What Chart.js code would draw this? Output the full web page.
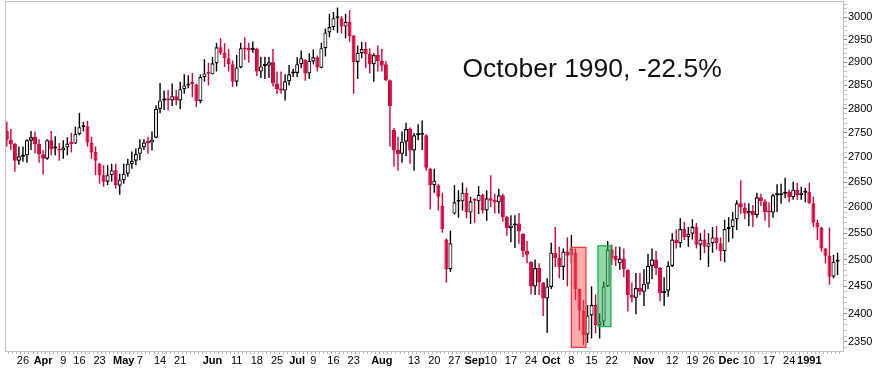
<!DOCTYPE html>
<html>
<head>
<meta charset="utf-8">
<script src="https://cdn.jsdelivr.net/npm/chart.js@4.4.0/dist/chart.umd.min.js"></script>
<style>
  html, body { margin: 0; padding: 0; background: #fff; }
  #wrap { width: 878px; height: 375px; }
</style>
</head>
<body>
<div id="wrap"><canvas id="chart"></canvas></div>
<script>
// Daily candles, 20 Mar 1990 - 11 Jan 1991 (one entry per trading day)
const opens = [
  2754, 2736, 2727, 2693, 2701, 2704, 2734, 2742, 2727, 2706,
  2697, 2735, 2718, 2718, 2714, 2720, 2729, 2728, 2748, 2762,
  2764, 2730, 2711, 2687, 2664, 2651, 2664, 2674, 2643, 2654,
  2667, 2686, 2693, 2707, 2720, 2731, 2730, 2740, 2800, 2818,
  2820, 2818, 2827, 2818, 2842, 2850, 2855, 2852, 2817, 2868,
  2877, 2874, 2898, 2933, 2921, 2909, 2896, 2858, 2889, 2930,
  2928, 2927, 2929, 2880, 2892, 2893, 2900, 2854, 2842, 2839,
  2859, 2876, 2877, 2896, 2905, 2876, 2902, 2911, 2888, 2931,
  2966, 2978, 2998, 2998, 2979, 2990, 2959, 2901, 2920, 2929,
  2918, 2896, 2916, 2903, 2896, 2861, 2756, 2715, 2707, 2732,
  2758, 2714, 2745, 2746, 2745, 2677, 2644, 2644, 2603, 2538,
  2482, 2588, 2611, 2612, 2629, 2590, 2614, 2612, 2625, 2594,
  2618, 2615, 2610, 2624, 2582, 2560, 2565, 2569, 2549, 2516,
  2496, 2450, 2484, 2457, 2428, 2449, 2513, 2503, 2486, 2515,
  2509, 2513, 2445, 2406, 2363, 2397, 2416, 2380, 2386, 2450,
  2519, 2507, 2493, 2502, 2481, 2434, 2429, 2447, 2440, 2455,
  2488, 2500, 2484, 2438, 2442, 2488, 2538, 2531, 2558, 2543,
  2549, 2562, 2528, 2538, 2524, 2531, 2542, 2531, 2516, 2558,
  2562, 2577, 2608, 2600, 2588, 2593, 2585, 2620, 2612, 2593,
  2590, 2624, 2624, 2627, 2631, 2620, 2635, 2624, 2629, 2631,
  2608, 2570, 2561, 2521, 2507, 2468, 2496
];
const highs = [
  2773, 2758, 2729, 2722, 2722, 2737, 2754, 2753, 2737, 2715,
  2737, 2754, 2743, 2729, 2735, 2741, 2750, 2763, 2792, 2773,
  2775, 2742, 2722, 2689, 2684, 2684, 2687, 2687, 2667, 2687,
  2697, 2712, 2718, 2737, 2737, 2742, 2753, 2808, 2855, 2839,
  2840, 2854, 2840, 2858, 2874, 2872, 2877, 2854, 2874, 2907,
  2899, 2912, 2943, 2953, 2942, 2929, 2904, 2916, 2943, 2955,
  2943, 2946, 2932, 2912, 2912, 2912, 2929, 2880, 2880, 2874,
  2894, 2886, 2911, 2926, 2907, 2920, 2928, 2915, 2943, 2975,
  3008, 3012, 3022, 3003, 3008, 3016, 2960, 2937, 2945, 2945,
  2931, 2920, 2937, 2929, 2903, 2863, 2760, 2742, 2753, 2771,
  2761, 2750, 2768, 2776, 2747, 2679, 2677, 2646, 2629, 2540,
  2555, 2644, 2634, 2649, 2639, 2621, 2618, 2642, 2627, 2634,
  2664, 2627, 2637, 2627, 2584, 2585, 2585, 2589, 2550, 2535,
  2497, 2500, 2493, 2458, 2465, 2532, 2562, 2524, 2521, 2542,
  2547, 2521, 2446, 2425, 2416, 2450, 2435, 2401, 2459, 2535,
  2528, 2524, 2524, 2521, 2482, 2457, 2475, 2475, 2482, 2511,
  2521, 2516, 2486, 2467, 2497, 2550, 2557, 2579, 2572, 2562,
  2577, 2570, 2550, 2557, 2550, 2562, 2564, 2542, 2576, 2581,
  2591, 2614, 2654, 2609, 2608, 2605, 2629, 2627, 2616, 2610,
  2627, 2646, 2647, 2659, 2635, 2651, 2649, 2641, 2639, 2649,
  2621, 2576, 2562, 2522, 2561, 2509, 2513
];
const lows = [
  2722, 2715, 2671, 2685, 2691, 2689, 2715, 2708, 2689, 2665,
  2695, 2704, 2704, 2693, 2697, 2704, 2710, 2727, 2745, 2753,
  2722, 2697, 2664, 2647, 2641, 2644, 2651, 2637, 2625, 2647,
  2661, 2677, 2684, 2694, 2715, 2707, 2714, 2739, 2791, 2798,
  2797, 2806, 2808, 2800, 2832, 2844, 2825, 2804, 2812, 2858,
  2850, 2874, 2880, 2916, 2890, 2880, 2847, 2848, 2887, 2905,
  2899, 2921, 2870, 2866, 2864, 2866, 2848, 2832, 2832, 2818,
  2850, 2868, 2868, 2887, 2860, 2864, 2896, 2880, 2887, 2913,
  2955, 2971, 2965, 2964, 2953, 2945, 2832, 2864, 2909, 2887,
  2876, 2858, 2880, 2880, 2859, 2722, 2681, 2673, 2689, 2702,
  2687, 2673, 2735, 2715, 2673, 2596, 2629, 2594, 2551, 2457,
  2477, 2586, 2580, 2594, 2579, 2568, 2570, 2587, 2588, 2574,
  2601, 2588, 2588, 2572, 2545, 2533, 2522, 2530, 2505, 2493,
  2435, 2434, 2434, 2396, 2366, 2445, 2486, 2465, 2462, 2450,
  2493, 2425, 2370, 2344, 2348, 2356, 2365, 2356, 2378, 2449,
  2490, 2488, 2481, 2467, 2404, 2421, 2399, 2434, 2414, 2445,
  2463, 2471, 2423, 2414, 2431, 2486, 2521, 2523, 2537, 2524,
  2538, 2521, 2499, 2512, 2486, 2513, 2519, 2497, 2495, 2533,
  2540, 2556, 2587, 2577, 2564, 2562, 2580, 2603, 2574, 2561,
  2580, 2591, 2607, 2618, 2610, 2615, 2615, 2615, 2610, 2607,
  2562, 2537, 2515, 2493, 2453, 2465, 2471
];
const closes = [
  2736, 2726, 2693, 2702, 2705, 2735, 2741, 2727, 2706, 2697,
  2735, 2716, 2719, 2714, 2720, 2728, 2727, 2748, 2762, 2763,
  2730, 2710, 2693, 2664, 2651, 2664, 2674, 2644, 2655, 2667,
  2687, 2693, 2707, 2720, 2730, 2729, 2736, 2800, 2818, 2819,
  2818, 2827, 2818, 2842, 2850, 2854, 2853, 2817, 2868, 2876,
  2875, 2898, 2933, 2921, 2909, 2896, 2858, 2889, 2931, 2928,
  2927, 2932, 2880, 2891, 2893, 2900, 2854, 2842, 2839, 2859,
  2874, 2877, 2896, 2909, 2876, 2903, 2911, 2889, 2931, 2966,
  2978, 2998, 2999, 2979, 2990, 2958, 2901, 2921, 2929, 2918,
  2896, 2916, 2903, 2893, 2861, 2806, 2714, 2706, 2732, 2758,
  2714, 2745, 2746, 2747, 2679, 2644, 2653, 2621, 2558, 2482,
  2531, 2610, 2612, 2629, 2591, 2612, 2613, 2625, 2594, 2618,
  2613, 2610, 2624, 2581, 2560, 2565, 2569, 2554, 2516, 2509,
  2450, 2484, 2457, 2428, 2450, 2513, 2503, 2486, 2515, 2507,
  2521, 2445, 2406, 2362, 2397, 2416, 2380, 2386, 2450, 2519,
  2502, 2498, 2502, 2482, 2434, 2429, 2447, 2440, 2455, 2488,
  2500, 2484, 2438, 2442, 2488, 2538, 2531, 2558, 2543, 2549,
  2562, 2528, 2538, 2524, 2531, 2542, 2531, 2516, 2558, 2562,
  2577, 2608, 2600, 2588, 2593, 2585, 2620, 2612, 2591, 2590,
  2624, 2625, 2627, 2631, 2620, 2635, 2624, 2629, 2631, 2608,
  2570, 2561, 2521, 2507, 2468, 2496, 2500
];

// x-axis labels: trading-day index -> text (months and 1991 in bold)
const tickIdx = [4, 9, 14, 18, 23, 29, 33, 38, 43, 51, 57, 62, 67, 72, 76, 81, 86, 93, 101, 106,
  111, 116, 120, 125, 130, 135, 140, 145, 150, 158, 165, 170, 174, 179, 184, 189, 194, 199];
const tickText = ['26', 'Apr', '9', '16', '23', 'May', '7', '14', '21', 'Jun', '11', '18', '25', 'Jul', '9', '16', '23', 'Aug', '13', '20',
  '27', 'Sep', '10', '17', '24', 'Oct', '8', '15', '22', 'Nov', '12', '19', '26', 'Dec', '10', '17', '24', '1991'];
const boldText = ['Apr', 'May', 'Jun', 'Jul', 'Aug', 'Sep', 'Oct', 'Nov', 'Dec', '1991'];

// y-axis labels
const yLabels = [2350, 2400, 2450, 2500, 2550, 2600, 2650, 2700, 2750, 2800, 2850, 2900, 2950, 3000];

// the two highlighted stretches in October and the note
const highlightBoxes = [
  { from: 140.0, to: 143.6, low: 2340, high: 2523, fill: 'rgba(255, 70, 70, 0.45)', line: '#ee3b3b' },
  { from: 146.6, to: 149.8, low: 2377, high: 2526, fill: 'rgba(35, 180, 85, 0.5)', line: '#1bb150' }
];
const note = { text: 'October 1990, -22.5%', at: 113, level: 2868 };

const RED = '#d6003a';
const FONT = '"Liberation Sans", Arial, sans-serif';

const isUp = (i) => closes[i] >= opens[i];
const labelAt = {};
tickIdx.forEach((d, k) => { labelAt[d] = tickText[k]; });

const wickData = highs.map((h, i) => ({ x: i, y: [lows[i], h] }));
const bodyData = opens.map((o, i) => ({ x: i, y: [o, closes[i]] }));

const frame = {
  id: 'frame',
  afterDatasetsDraw(chart) {
    const { ctx, chartArea: a, scales: { x, y } } = chart;
    ctx.save();
    highlightBoxes.forEach(b => {
      const x0 = x.getPixelForValue(b.from), x1 = x.getPixelForValue(b.to);
      const y0 = y.getPixelForValue(b.high), y1 = y.getPixelForValue(b.low);
      ctx.fillStyle = b.fill;
      ctx.fillRect(x0, y0, x1 - x0, y1 - y0);
      ctx.strokeStyle = b.line;
      ctx.lineWidth = 1.3;
      ctx.strokeRect(x0, y0, x1 - x0, y1 - y0);
    });
    ctx.font = '26.5px ' + FONT;
    ctx.fillStyle = '#111';
    ctx.textBaseline = 'alphabetic';
    ctx.textAlign = 'left';
    ctx.fillText(note.text, x.getPixelForValue(note.at), y.getPixelForValue(note.level));
    ctx.strokeStyle = '#c0c0c0';
    ctx.lineWidth = 1;
    ctx.strokeRect(a.left + 0.5, a.top + 0.5, a.right - a.left - 1, a.bottom - a.top - 1);
    ctx.restore();
  }
};

new Chart(document.getElementById('chart'), {
  type: 'bar',
  data: {
    datasets: [
      {
        // candle bodies, open -> close
        data: bodyData,
        order: 1,
        grouped: false,
        barThickness: 4,
        minBarLength: 2,
        borderWidth: 1.15,
        borderSkipped: false,
        inflateAmount: 0,
        backgroundColor: c => isUp(c.dataIndex) ? '#ffffff' : RED,
        borderColor: c => isUp(c.dataIndex) ? '#000000' : RED
      },
      {
        // wicks, low -> high
        data: wickData,
        order: 2,
        grouped: false,
        barThickness: 1.4,
        borderWidth: 0,
        inflateAmount: 0,
        backgroundColor: c => isUp(c.dataIndex) ? '#000000' : RED
      }
    ]
  },
  options: {
    responsive: true,
    maintainAspectRatio: false,
    animation: false,
    layout: { padding: { left: 5, top: 1, right: 0, bottom: 0 } },
    plugins: { legend: { display: false }, tooltip: { enabled: false } },
    scales: {
      x: {
        type: 'linear',
        min: -0.45,
        max: 207.6,
        offset: false,
        afterBuildTicks: s => { s.ticks = opens.map((o, i) => ({ value: i })); },
        afterFit: s => { s.height = 23; s.paddingLeft = 0; s.paddingRight = 0; },
        grid: { drawOnChartArea: false, tickLength: 2, color: '#b8b8b8' },
        border: { display: false },
        ticks: {
          autoSkip: false,
          maxRotation: 0,
          padding: 0,
          color: '#000',
          callback: v => labelAt[v] ?? '',
          font: c => ({
            family: FONT,
            size: 11,
            weight: (c.tick && boldText.includes(c.tick.label)) ? 'bold' : 'normal'
          })
        }
      },
      y: {
        type: 'logarithmic',
        position: 'right',
        min: 2332,
        max: 3037,
        afterBuildTicks: s => {
          const t = [];
          for (let v = 2340; v <= 3030; v += 10) t.push({ value: v });
          s.ticks = t;
        },
        afterFit: s => { s.width = 34; s.paddingTop = 0; s.paddingBottom = 0; },
        grid: { drawOnChartArea: false, tickLength: 3, color: c => (c.tick && yLabels.includes(c.tick.value)) ? '#888' : '#c4c4c4' },
        border: { display: false },
        ticks: {
          autoSkip: false,
          padding: 1,
          color: '#000',
          font: { family: FONT, size: 11 },
          callback: v => yLabels.includes(v) ? String(v) : ''
        }
      }
    }
  },
  plugins: [frame]
});
</script>
</body>
</html>
